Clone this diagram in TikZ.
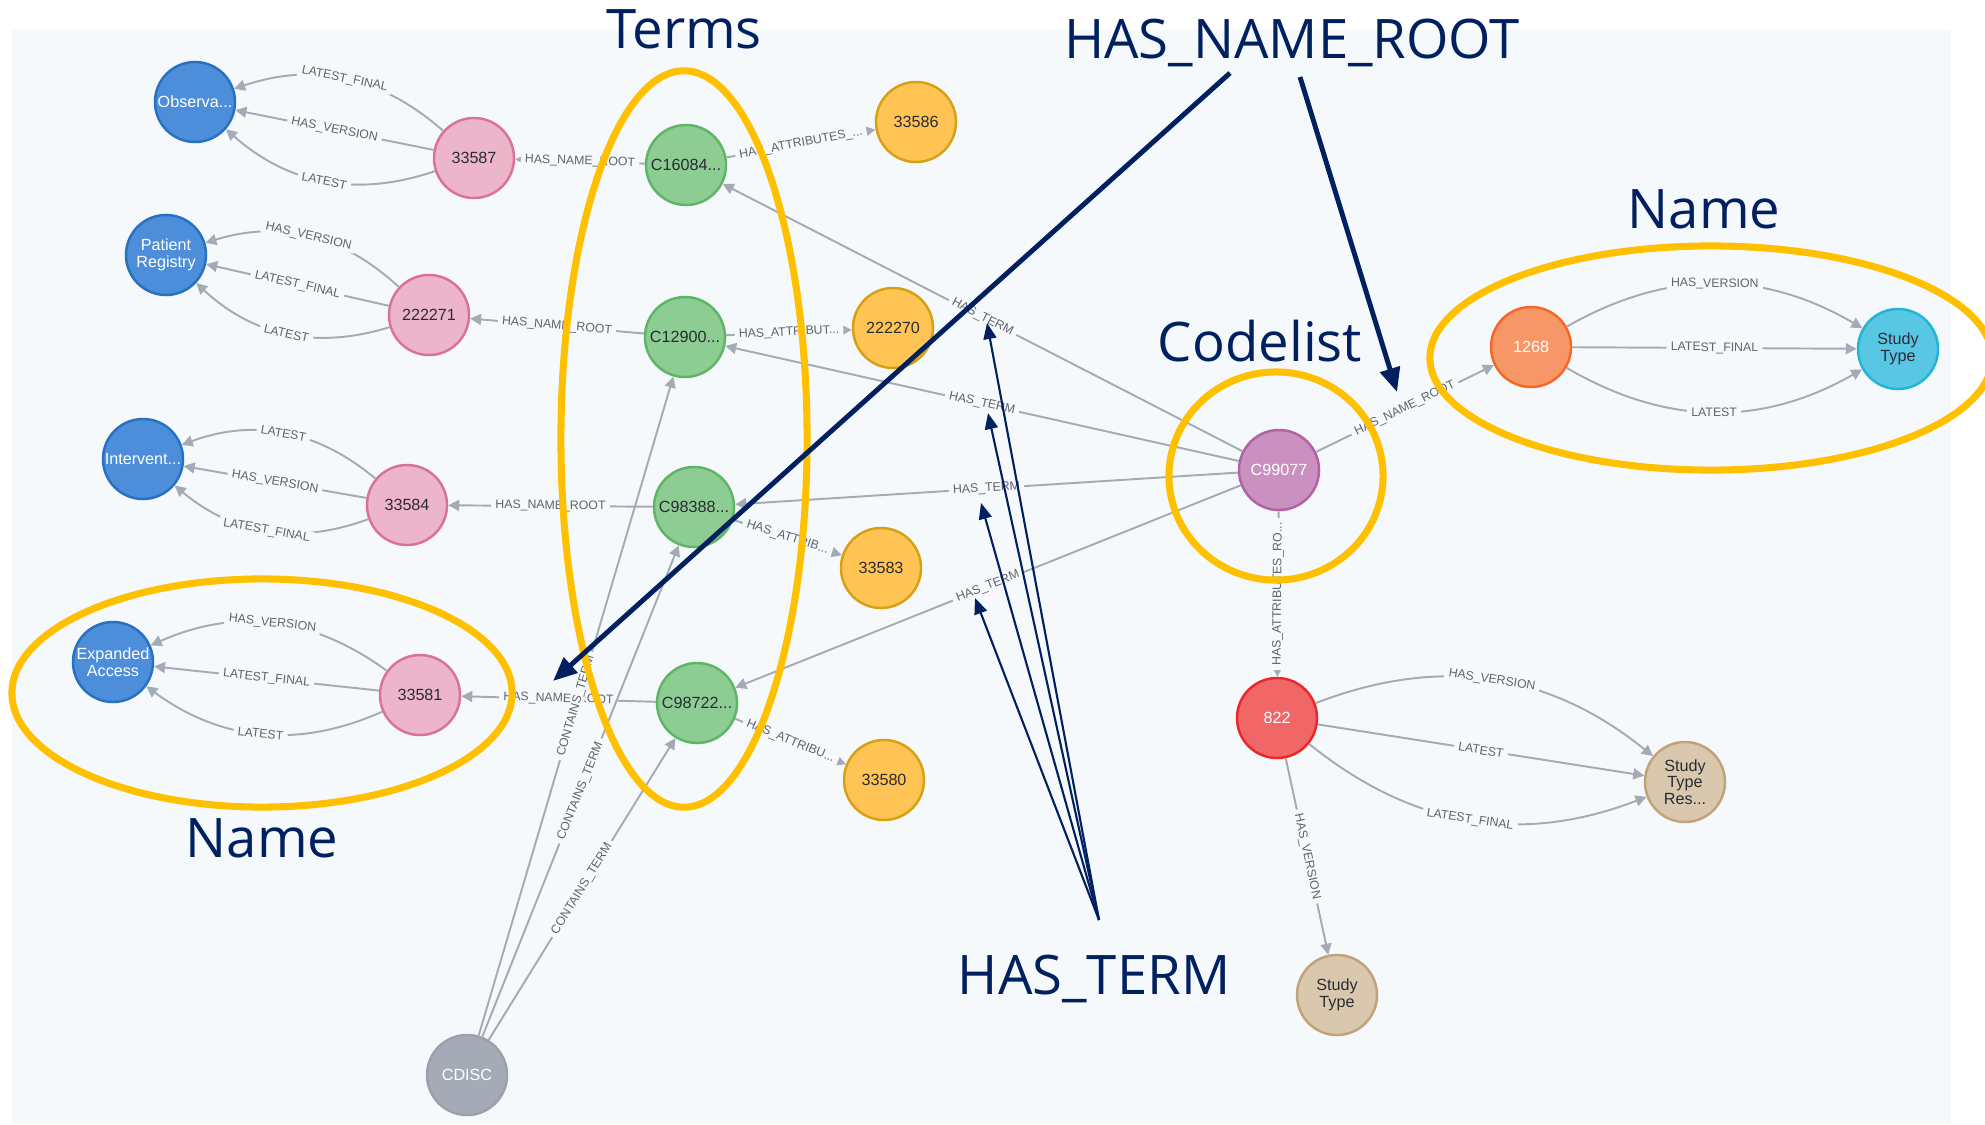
\documentclass[tikz,border=0pt]{standalone}
\usepackage{fontspec}
\usepackage{xcolor}
\usepackage{tikz}
\usetikzlibrary{positioning, shapes.geometric, arrows.meta}

\newfontfamily\arialfont{Liberation Sans}
\newfontfamily\calloutfam{Open Sans}

\definecolor{canvas}{HTML}{F6F9FC}
\definecolor{relgray}{HTML}{A5ABB6}
\definecolor{reltext}{HTML}{5F636B}
\definecolor{textdark}{HTML}{2A2C34}
\definecolor{markblue}{HTML}{002060}
\definecolor{ringgold}{HTML}{FFC000}
\definecolor{verfill}{HTML}{4C8EDA}  \definecolor{verline}{HTML}{2870C2}
\definecolor{namefill}{HTML}{ECB5C9} \definecolor{nameline}{HTML}{DA7298}
\definecolor{termfill}{HTML}{8DCC93} \definecolor{termline}{HTML}{5DB665}
\definecolor{attrfill}{HTML}{FFC454} \definecolor{attrline}{HTML}{D7A013}
\definecolor{listfill}{HTML}{C990C0} \definecolor{listline}{HTML}{B261A5}
\definecolor{rootfill}{HTML}{F79767} \definecolor{rootline}{HTML}{F36924}
\definecolor{typefill}{HTML}{57C7E3} \definecolor{typeline}{HTML}{23B3D7}
\definecolor{arfill}{HTML}{F16667}   \definecolor{arline}{HTML}{EB2728}
\definecolor{resfill}{HTML}{D9C8AE}  \definecolor{resline}{HTML}{C0A378}
\definecolor{libfill}{HTML}{A5ABB6}  \definecolor{libline}{HTML}{9AA1AC}

\begin{document}
\begin{tikzpicture}[
    x=0.01cm, y=-0.01cm,
    gnode/.style={circle, draw, line width=0.7pt, minimum size=0.8cm, inner sep=0pt, align=center, text=textdark, font=\arialfont\fontsize{4.6}{4.7}\selectfont},
    vernode/.style={gnode, fill=verfill, draw=verline, text=white},
    namenode/.style={gnode, fill=namefill, draw=nameline},
    termnode/.style={gnode, fill=termfill, draw=termline},
    attrnode/.style={gnode, fill=attrfill, draw=attrline},
    listnode/.style={gnode, fill=listfill, draw=listline, text=white},
    rootnode/.style={gnode, fill=rootfill, draw=rootline, text=white},
    typenode/.style={gnode, fill=typefill, draw=typeline},
    arnode/.style={gnode, fill=arfill, draw=arline, text=white},
    resnode/.style={gnode, fill=resfill, draw=resline},
    libnode/.style={gnode, fill=libfill, draw=libline, text=white},
    rel/.style={draw=relgray, line width=0.55pt, -{Triangle[length=1.1mm, width=1.1mm]}},
    lbl/.style={sloped, fill=canvas, inner xsep=1.2pt, inner ysep=0.3pt, text=reltext, font=\arialfont\fontsize{3.5}{4}\selectfont},
    ring/.style={ellipse, draw=ringgold, line width=2pt, inner sep=0pt},
    callout/.style={text=markblue, inner sep=0pt, font=\calloutfam\fontsize{15.5}{18}\selectfont},
    pointer/.style={draw=markblue, line width=1.4pt, -{Triangle[length=2.4mm, width=2mm]}},
    thinpointer/.style={draw=markblue, line width=0.6pt, -{Triangle[length=1.6mm, width=1.3mm]}}
]
\useasboundingbox (0,0) rectangle (1985,1124);
\fill[white] (0,0) rectangle (1985,1124);
\fill[canvas] (12,30) rectangle (1951,1124);

% Version nodes
\node[vernode] (obs) at (195,102) {Observa...};
\node[vernode] (pat) at (166,255) {Patient\\Registry};
\node[vernode] (int) at (143,459) {Intervent...};
\node[vernode] (exp) at (113,662) {Expanded\\Access};

% Name nodes
\node[namenode] (nm1) at (474,158) {33587};
\node[namenode] (nm2) at (429,315) {222271};
\node[namenode] (nm3) at (407,505) {33584};
\node[namenode] (nm4) at (420,695) {33581};

% Terms
\node[termnode] (t1) at (686,165) {C16084...};
\node[termnode] (t2) at (685,337) {C12900...};
\node[termnode] (t3) at (694,507) {C98388...};
\node[termnode] (t4) at (697,703) {C98722...};

% Attributes
\node[attrnode] (a1) at (916,122) {33586};
\node[attrnode] (a2) at (893,328) {222270};
\node[attrnode] (a3) at (881,568) {33583};
\node[attrnode] (a4) at (884,780) {33580};

% Codelist and its root
\node[listnode] (cl) at (1279,470) {C99077};
\node[rootnode] (nr) at (1531,347) {1268};
\node[typenode] (st) at (1898,349) {Study\\Type};
\node[arnode] (ar) at (1277,718) {822};
\node[resnode] (rs) at (1685,782) {Study\\Type\\Res...};
\node[resnode] (st2) at (1337,995) {Study\\Type};
\node[libnode] (cdisc) at (467,1075) {CDISC};

% Name -> version edges
\draw[rel] (nm1) to[bend right=30] node[lbl] {LATEST\_FINAL} (obs);
\draw[rel] (nm1) -- node[lbl] {HAS\_VERSION} (obs);
\draw[rel] (nm1) to[bend left=30] node[lbl] {LATEST} (obs);
\draw[rel] (nm2) to[bend right=30] node[lbl] {HAS\_VERSION} (pat);
\draw[rel] (nm2) -- node[lbl] {LATEST\_FINAL} (pat);
\draw[rel] (nm2) to[bend left=30] node[lbl] {LATEST} (pat);
\draw[rel] (nm3) to[bend right=30] node[lbl] {LATEST} (int);
\draw[rel] (nm3) -- node[lbl] {HAS\_VERSION} (int);
\draw[rel] (nm3) to[bend left=30] node[lbl] {LATEST\_FINAL} (int);
\draw[rel] (nm4) to[bend right=30] node[lbl] {HAS\_VERSION} (exp);
\draw[rel] (nm4) -- node[lbl] {LATEST\_FINAL} (exp);
\draw[rel] (nm4) to[bend left=30] node[lbl] {LATEST} (exp);

% Term edges
\draw[rel] (t1) -- node[lbl] {HAS\_NAME\_ROOT} (nm1);
\draw[rel] (t2) -- node[lbl] {HAS\_NAME\_ROOT} (nm2);
\draw[rel] (t3) -- node[lbl] {HAS\_NAME\_ROOT} (nm3);
\draw[rel] (t4) -- node[lbl] {HAS\_NAME\_ROOT} (nm4);
\draw[rel] (t1) -- node[lbl] {HAS\_ATTRIBUTES\_...} (a1);
\draw[rel] (t2) -- node[lbl] {HAS\_ATTRIBUT...} (a2);
\draw[rel] (t3) -- node[lbl] {HAS\_ATTRIB...} (a3);
\draw[rel] (t4) -- node[lbl] {HAS\_ATTRIBU...} (a4);
\draw[rel] (cdisc) -- node[lbl] {CONTAINS\_TERM} (t2);
\draw[rel] (cdisc) -- node[lbl] {CONTAINS\_TERM} (t3);
\draw[rel] (cdisc) -- node[lbl] {CONTAINS\_TERM} (t4);

% Codelist edges
\draw[rel] (cl) -- node[lbl] {HAS\_TERM} (t1);
\draw[rel] (cl) -- node[lbl] {HAS\_TERM} (t2);
\draw[rel] (cl) -- node[lbl] {HAS\_TERM} (t3);
\draw[rel] (cl) -- node[lbl] {HAS\_TERM} (t4);
\draw[rel] (cl) -- node[lbl] {HAS\_NAME\_ROOT} (nr);
\draw[rel] (cl) -- node[lbl] {HAS\_ATTRIBUTES\_RO...} (ar);
\draw[rel] (nr) to[bend left=30] node[lbl] {HAS\_VERSION} (st);
\draw[rel] (nr) -- node[lbl] {LATEST\_FINAL} (st);
\draw[rel] (nr) to[bend right=30] node[lbl] {LATEST} (st);
\draw[rel] (ar) to[bend left=30] node[lbl] {HAS\_VERSION} (rs);
\draw[rel] (ar) -- node[lbl] {LATEST} (rs);
\draw[rel] (ar) to[bend right=30] node[lbl] {LATEST\_FINAL} (rs);
\draw[rel] (ar) -- node[lbl] {HAS\_VERSION} (st2);

% Highlight rings and titles
\node[ring, minimum width=2.46cm, minimum height=7.36cm] (termring) at (684,439) {};
\node[ring, minimum width=2.14cm, minimum height=2.08cm] (clring) at (1276,476) {};
\node[ring, minimum width=5.62cm, minimum height=2.24cm] (rnamering) at (1711,358) {};
\node[ring, minimum width=5.0cm, minimum height=2.28cm] (lnamering) at (262,693) {};

\node[callout, above=0.18cm of termring] (termtitle) {Terms};
\node[callout, above=0.06cm of clring, xshift=-0.16cm] (cltitle) {Codelist};
\node[callout, above=0.13cm of rnamering, xshift=-0.07cm] (rnametitle) {Name};
\node[callout, below=0.07cm of lnamering] (lnametitle) {Name};
\node[callout, anchor=base] (hnrtitle) at (1292,58) {HAS\_NAME\_ROOT};
\node[callout, anchor=base] (httitle) at (1094,994) {HAS\_TERM};

% Pointers
\coordinate (hnrfootA) at (1230,73);
\coordinate (hnrfootB) at (1300,77);
\coordinate (hnrtipA) at (553,681);
\coordinate (hnrtipB) at (1397,392);
\coordinate (htfoot) at (1099,920);
\coordinate (httip1) at (987,323);
\coordinate (httip2) at (988,413);
\coordinate (httip3) at (981,503);
\coordinate (httip4) at (975,598);

\draw[pointer] (hnrfootA) -- (hnrtipA);
\draw[pointer] (hnrfootB) -- (hnrtipB);
\draw[thinpointer] (htfoot) -- (httip1);
\draw[thinpointer] (htfoot) -- (httip2);
\draw[thinpointer] (htfoot) -- (httip3);
\draw[thinpointer] (htfoot) -- (httip4);

\end{tikzpicture}
\end{document}
